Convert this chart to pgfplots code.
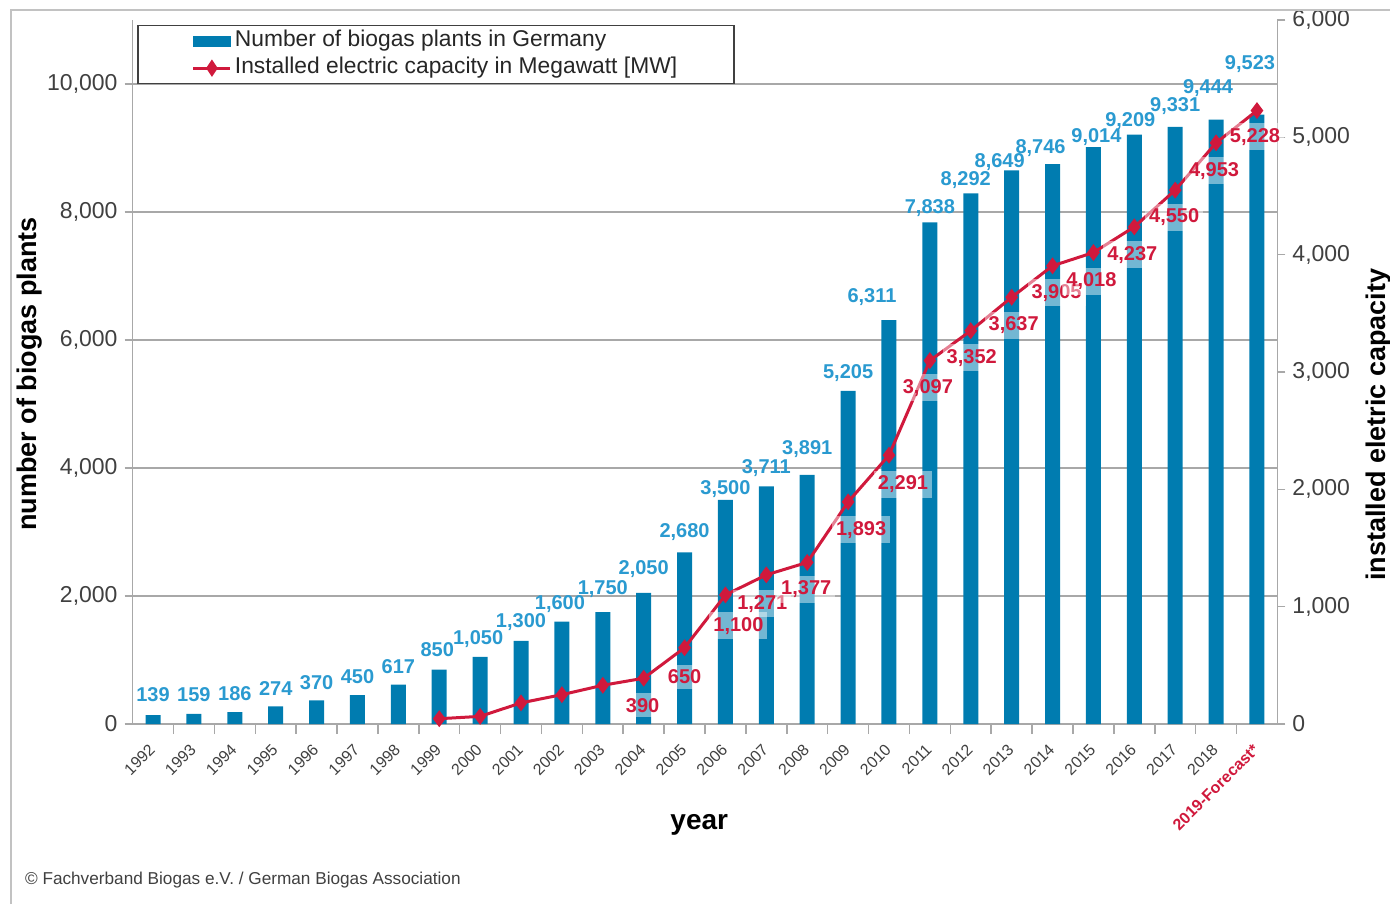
\documentclass[border=0pt]{standalone}
\usepackage{fontspec}
\setmainfont{Liberation Sans}
\usepackage{pgfplots}
\pgfplotsset{compat=1.18}
\usepackage{pgfplotstable}
\definecolor{barblue}{HTML}{007CB0}
\definecolor{labblue}{HTML}{2A9AD0}
\definecolor{linered}{HTML}{D0193C}
\definecolor{tickgray}{HTML}{404040}
\definecolor{gridgray}{HTML}{A8A8A8}

\pgfplotstableread{
x n dx dy
0 139 0 10
1 159 0 9.5
2 186 0 9
3 274 0 9
4 370 0 9
5 450 0 9.5
6 617 0 9
7 850 -1 10
8 1050 -1 9
9 1300 0 9.5
10 1600 -1 9
11 1750 0 11.5
12 2050 0 12
13 2680 0 10
14 3500 0 5.5
15 3711 0 9
16 3891 0 13
17 5205 0 9
18 6311 -8.5 11.5
19 7838 0 7
20 8292 -2.5 6.5
21 8649 -6 4
22 8746 -6 8
23 9014 1.5 5
24 9209 -2 7
25 9331 0 10.5
26 9444 -4 16
27 9523 -3.5 25
}\bars

\pgfplotstableread{
x mw
7 45
8 65
9 180
10 250
11 330
12 390
13 650
14 1100
15 1271
16 1377
17 1893
18 2291
19 3097
20 3352
21 3637
22 3905
23 4018
24 4237
25 4550
26 4953
27 5228
}\capline

\pgfplotstableread{
x mw dx dy
12 390 -0.5 -13.5
13 650 0 -14.5
14 1100 6.5 -15.5
15 1271 -2 -14.5
16 1377 -0.5 -13.5
17 1893 6.5 -14
18 2291 7 -14.5
19 3097 -1 -13.5
20 3352 0.5 -13.5
21 3637 1 -14
22 3905 2 -13.5
23 4018 -1 -14.5
24 4237 -1 -14
25 4550 -0.5 -13.5
26 4953 -1 -14
27 5228 -1 -13
}\caplab

\pgfplotsset{
  base/.style={
    width=572.4pt, height=352pt, scale only axis,
    xmin=-0.5, xmax=27.5, ymin=0,
    axis line style={gridgray, line width=0.75pt, -},
    tick style={gridgray, line width=0.75pt},
    tick align=outside,
    major tick length=4pt, minor tick length=5pt,
    tick label style={font=\fontsize{11.5}{13}\selectfont, text=tickgray},
    scaled y ticks=false,
    /pgf/number format/1000 sep={,},
    /pgf/number format/assume math mode=true,
  }
}

\begin{document}
\begin{tikzpicture}
\begin{axis}[base,
  ymax=11000,
  axis x line*=bottom, axis y line*=left,
  ytick={0,2000,...,10000},
  ymajorgrids, grid style={gridgray, line width=0.75pt},
  xtick={0,...,27},
  xticklabels={1992,1993,1994,1995,1996,1997,1998,1999,2000,2001,2002,2003,2004,2005,2006,2007,2008,2009,2010,2011,2012,2013,2014,2015,2016,2017,2018,{\color{linered}\bfseries 2019-Forecast*}},
  xticklabel style={xshift=2pt, yshift=-5pt, rotate=45, anchor=east, font=\fontsize{8}{9}\selectfont},
  major x tick style={draw=none},
  minor x tick num=1,
  ylabel={number of biogas plants},
  ylabel style={font=\bfseries\fontsize{13.5}{15}\selectfont, text=black, at={(axis description cs:-0.0896,0.497)}, anchor=center},
  xlabel={year},
  xlabel style={font=\bfseries\fontsize{14}{16}\selectfont, text=black, at={(axis description cs:0.495,-0.1435)}, anchor=center},
]
\addplot[ybar, bar width=7.5pt, fill=barblue, draw=none,
  visualization depends on={\thisrow{dx} \as \bdx},
  visualization depends on={\thisrow{dy} \as \bdy},
  nodes near coords,
  nodes near coords style={font=\bfseries\fontsize{10}{12}\selectfont, text=labblue, anchor=center, xshift=\bdx pt, yshift=\bdy pt, inner sep=0pt},
] table[x=x, y=n] {\bars};
\end{axis}

\begin{axis}[base,
  ymax=6000,
  axis y line*=right, axis x line=none,
  ytick={0,1000,...,6000},
  ylabel={installed eletric capacity},
  ylabel style={font=\bfseries\fontsize{13.5}{15}\selectfont, text=black, at={(axis description cs:1.0879,0.425)}, anchor=center},
  legend cell align=left,
  legend style={at={(0.004,0.993)}, anchor=north west, draw=tickgray, line width=0.75pt, fill=white,
    inner xsep=27pt, inner ysep=1pt, font=\fontsize{11.4}{13}\selectfont, text=black!85,
    nodes={inner sep=1.5pt, text height=8pt, text depth=2.5pt}, row sep=0pt},
]
\addlegendimage{legend image code/.code={\fill[barblue] (0pt,-2.3pt) rectangle (18.5pt,2.3pt);}}
\addlegendentry{Number of biogas plants in Germany}
\addplot[linered, line width=1.5pt, mark=diamond*, mark size=3pt,
  legend image code/.code={\draw[linered, line width=1.5pt] (0pt,0pt) -- (18.5pt,0pt); \path[fill=linered] (9.25pt,3pt) -- (11.25pt,0pt) -- (9.25pt,-3pt) -- (7.25pt,0pt) -- cycle;}
] table[x=x, y=mw] {\capline};
\addlegendentry{Installed electric capacity in Megawatt [MW]}
\addplot[draw=none, mark=none, forget plot,
  visualization depends on={\thisrow{dx} \as \ldx},
  visualization depends on={\thisrow{dy} \as \ldy},
  nodes near coords,
  nodes near coords style={font=\bfseries\fontsize{10}{12}\selectfont, text=linered, fill=white, fill opacity=0.45, text opacity=1, inner xsep=2pt, inner ysep=2.5pt, anchor=center, xshift=\ldx pt, yshift=\ldy pt},
] table[x=x, y=mw] {\caplab};
\end{axis}

\node[anchor=west, font=\fontsize{8.6}{10}\selectfont, text=tickgray] at (-57.3pt,-78pt) {© Fachverband Biogas e.V. / German Biogas Association};
\draw[gridgray!70, line width=0.75pt] (-60.8pt,-90pt) -- (-60.8pt,357pt) -- (628.7pt,357pt);
\pgfresetboundingbox
\useasboundingbox (-66.3pt,-90pt) rectangle (628.7pt,362pt);
\end{tikzpicture}
\end{document}
